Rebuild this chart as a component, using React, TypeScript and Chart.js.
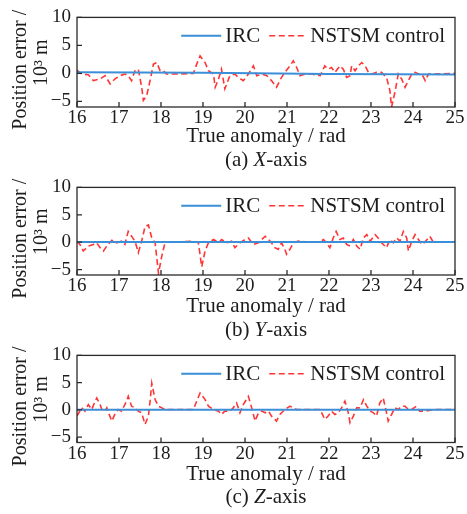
import React, { useEffect, useRef } from "react";
import { Chart, registerables } from "chart.js";

Chart.register(...registerables);

const FONT = '"Liberation Serif", "Times New Roman", serif';

const xTickValues = [16, 17, 18, 19, 20, 21, 22, 23, 24, 25];
const yTickValues = [-5, 0, 5, 10];

const seriesNames = ["IRC", "NSTSM control"];
const xTitle = "True anomaly / rad";
const yTitleLines = ["Position error /", "10\u00b3 m"];

// (a) X-axis
const anomalyA = [16.0, 16.11, 16.27, 16.39, 16.55, 16.67, 16.79, 16.9, 17.02, 17.14, 17.22, 17.3, 17.38, 17.46, 17.54, 17.58, 17.66, 17.74, 17.82, 17.9, 17.98, 18.06, 18.13, 18.45, 18.77, 18.85, 18.93, 19.05, 19.13, 19.25, 19.29, 19.37, 19.44, 19.52, 19.64, 19.76, 19.84, 19.96, 20.08, 20.2, 20.28, 20.4, 20.52, 20.63, 20.75, 20.87, 20.95, 21.07, 21.15, 21.23, 21.31, 21.43, 21.59, 21.79, 21.9, 21.98, 22.06, 22.14, 22.26, 22.34, 22.42, 22.5, 22.54, 22.62, 22.7, 22.78, 22.86, 22.94, 23.02, 23.13, 23.25, 23.37, 23.45, 23.49, 23.57, 23.65, 23.73, 23.81, 23.89, 23.97, 24.05, 24.13, 24.21, 24.29, 24.37, 24.48, 25.0];
const nstsmA = [0.59, -0.12, -0.24, -1.29, -1.0, -0.41, -1.88, -1.0, -0.41, -0.12, -0.41, -1.29, 0.47, 0.76, -2.47, -4.82, -3.94, -1.29, 1.65, 1.94, 0.47, 0.47, -0.12, -0.1, 0.0, 1.65, 3.12, 1.94, 0.47, -0.12, -2.47, -1.0, 0.76, -2.76, -0.41, -0.12, -0.71, -1.29, -0.12, 1.35, -0.41, -0.12, -0.41, -1.29, -2.47, -0.71, 0.18, 1.35, 2.24, 1.06, -0.41, -0.12, -0.12, -0.41, 1.35, 0.76, 1.06, 0.18, 1.35, 0.76, -0.71, -0.41, 1.35, 0.47, 1.35, 1.94, 1.35, 0.18, -0.12, 0.18, 0.18, -0.71, -3.06, -6.0, -3.35, -0.12, -1.0, -2.47, -1.29, -0.12, 0.18, -0.12, -0.12, -1.29, -0.12, -0.1, 0.0];

// (b) Y-axis
const anomalyB = [16.0, 16.07, 16.15, 16.27, 16.39, 16.47, 16.55, 16.63, 16.71, 16.83, 16.94, 17.06, 17.14, 17.22, 17.3, 17.38, 17.46, 17.54, 17.62, 17.7, 17.78, 17.86, 17.94, 18.02, 18.1, 18.45, 18.77, 18.89, 18.97, 19.05, 19.13, 19.25, 19.37, 19.44, 19.56, 19.68, 19.76, 19.88, 20.0, 20.08, 20.2, 20.32, 20.4, 20.48, 20.56, 20.63, 20.71, 20.79, 20.87, 20.95, 20.99, 21.07, 21.15, 21.27, 21.43, 21.79, 21.87, 21.94, 22.02, 22.1, 22.17, 22.26, 22.34, 22.42, 22.5, 22.58, 22.66, 22.74, 22.82, 22.9, 22.98, 23.1, 23.17, 23.25, 23.37, 23.45, 23.53, 23.61, 23.69, 23.77, 23.85, 23.89, 23.97, 24.05, 24.13, 24.21, 24.29, 24.4, 24.48, 25.0];
const nstsmB = [0.18, -0.42, -1.61, -0.71, -0.42, -0.12, -1.01, -1.61, -0.71, 0.36, -0.12, 0.18, -0.42, 1.96, 1.07, 0.18, -1.9, 0.18, 2.86, 3.15, 0.77, -0.12, -5.7, -2.5, 0.06, 0.06, 0.18, -0.12, -4.5, -1.61, -0.12, 0.48, -0.12, 0.48, -0.12, 0.18, -1.01, -0.12, 0.48, 0.77, -0.42, -0.12, 0.48, 1.07, 0.48, -0.12, -1.01, -1.31, -0.12, -1.31, -2.2, -1.31, -0.12, 0.18, 0.06, 0.06, 0.48, -0.12, -1.01, 0.77, 1.96, 0.48, 0.77, -0.42, -0.71, 0.48, -0.71, -1.31, 0.77, 1.37, 0.18, 1.37, 0.77, -0.12, -1.01, 0.48, -0.12, 0.77, 0.18, 1.96, 0.77, -1.61, 0.18, 1.37, 0.48, -0.42, 0.06, 1.07, 0.06, 0.0];

// (c) Z-axis
const anomalyC = [16.0, 16.11, 16.19, 16.27, 16.35, 16.43, 16.47, 16.55, 16.59, 16.67, 16.71, 16.75, 16.83, 16.9, 16.98, 17.06, 17.18, 17.22, 17.3, 17.38, 17.46, 17.54, 17.62, 17.7, 17.74, 17.78, 17.86, 17.94, 18.02, 18.1, 18.45, 18.77, 18.85, 18.93, 19.05, 19.13, 19.25, 19.37, 19.44, 19.52, 19.64, 19.72, 19.8, 19.88, 19.96, 20.08, 20.16, 20.24, 20.32, 20.4, 20.48, 20.56, 20.63, 20.75, 20.83, 20.95, 21.07, 21.15, 21.23, 21.39, 21.79, 21.9, 21.98, 22.06, 22.14, 22.22, 22.3, 22.38, 22.46, 22.5, 22.58, 22.66, 22.74, 22.82, 22.9, 22.98, 23.06, 23.13, 23.21, 23.29, 23.37, 23.41, 23.49, 23.57, 23.65, 23.73, 23.81, 23.89, 23.97, 24.08, 24.16, 24.29, 24.48, 25.0];
const nstsmC = [-1.15, 0.36, -0.24, 0.97, 0.06, 1.58, 2.18, 0.97, 0.06, -0.24, 0.36, -0.55, -2.06, -0.85, 0.06, -0.24, 1.58, 2.48, 0.67, 0.36, -0.24, -0.55, -2.67, -1.15, 1.58, 4.91, 1.88, 0.67, 0.36, 0.06, 0.06, 0.06, 1.58, 3.09, 1.88, 0.67, 0.06, -0.24, -0.85, -0.24, -0.24, 0.36, 1.27, -0.55, 0.97, 2.48, 0.36, -2.06, -0.55, -0.24, -0.55, -0.24, -1.15, -2.06, -0.85, 0.06, 0.67, 0.36, 0.06, 0.06, 0.06, -1.76, -1.15, -0.24, -0.85, -0.55, 0.36, 1.58, -0.55, -2.36, -1.15, 0.36, 0.36, 1.88, 0.67, -0.24, -0.55, -1.15, 1.27, 2.18, -0.55, -2.06, -0.85, 0.36, 0.06, 0.67, 0.67, 0.06, 0.06, 0.67, -0.24, -0.24, 0.06, 0.06];

// IRC (nearly flat)
const ircAnomaly = [16, 19, 22, 25];
const ircA = [0.2, 0.1, -0.1, -0.2];
const ircB = [0.05, 0.05, 0.05, 0.05];
const ircC = [0.0, 0.0, 0.0, 0.0];

const captionLabels = ["(a) ", "(b) ", "(c) "];
const captionLetters = ["X", "Y", "Z"];

const BLUE = "#3a8fd8";
const RED = "#ff3535";
const INK = "#1c1c1c";

const CANVAS_W = 467;
const CANVAS_H = 170;
const TICK_SIZE = 19;
const TEXT_SIZE = 21;
const YTITLE_SIZE = 20;

type PanelProps = {
  top: number;
  areaHeight: number;
  anomaly: number[];
  nstsm: number[];
  irc: number[];
  label: string;
  letter: string;
  captionBase: number;
};

function Panel({ top, areaHeight, anomaly, nstsm, irc, label, letter, captionBase }: PanelProps) {
  const ref = useRef<HTMLCanvasElement | null>(null);

  useEffect(() => {
    if (!ref.current) return;
    const areaTop = 16;
    const xAxisH = CANVAS_H - areaTop - areaHeight;

    const decor = {
      id: "decor",
      afterDatasetsDraw(chart: any) {
        const { ctx, chartArea: a, scales } = chart;
        ctx.save();
        // frame
        ctx.strokeStyle = "#2a2a2a";
        ctx.lineWidth = 1.3;
        ctx.setLineDash([]);
        ctx.strokeRect(a.left, a.top, a.right - a.left, a.bottom - a.top);
        // inward ticks
        ctx.beginPath();
        scales.x.ticks.forEach((t: any) => {
          const px = scales.x.getPixelForValue(t.value);
          ctx.moveTo(px, a.bottom);
          ctx.lineTo(px, a.bottom - 5);
        });
        scales.y.ticks.forEach((t: any) => {
          const py = scales.y.getPixelForValue(t.value);
          ctx.moveTo(a.left, py);
          ctx.lineTo(a.left + 5, py);
        });
        ctx.stroke();

        // legend (inside, top-right)
        ctx.font = `${TEXT_SIZE}px ${FONT}`;
        ctx.fillStyle = INK;
        ctx.textBaseline = "middle";
        ctx.textAlign = "left";
        const ly = a.top + 18.3;
        const wIRC = ctx.measureText(seriesNames[0]).width;
        const wN = ctx.measureText(seriesNames[1]).width;
        const right = a.right - 10;
        const xN = right - wN;
        const redEnd = xN - 3;
        const redStart = redEnd - 38;
        const xIRC = redStart - 9 - wIRC;
        const blueEnd = xIRC - 4;
        const blueStart = blueEnd - 40;
        ctx.lineWidth = 2;
        ctx.strokeStyle = BLUE;
        ctx.beginPath();
        ctx.moveTo(blueStart, ly);
        ctx.lineTo(blueEnd, ly);
        ctx.stroke();
        ctx.lineWidth = 1.6;
        ctx.strokeStyle = RED;
        ctx.setLineDash([6, 3.5]);
        ctx.beginPath();
        ctx.moveTo(redStart, ly);
        ctx.lineTo(redEnd, ly);
        ctx.stroke();
        ctx.setLineDash([]);
        ctx.fillText(seriesNames[0], xIRC, ly + 1);
        ctx.fillText(seriesNames[1], xN, ly + 1);

        // y-axis title (two lines)
        const cy = (a.top + a.bottom) / 2;
        ctx.font = `${YTITLE_SIZE}px ${FONT}`;
        ctx.textAlign = "center";
        ctx.textBaseline = "alphabetic";
        ctx.save();
        ctx.translate(25.5, cy + 7.5);
        ctx.rotate(-Math.PI / 2);
        ctx.fillText(yTitleLines[0], 0, 0);
        ctx.restore();
        ctx.save();
        ctx.translate(46.5, cy + 0.5);
        ctx.rotate(-Math.PI / 2);
        ctx.fillText(yTitleLines[1], 0, 0);
        ctx.restore();

        // caption
        const cx = (a.left + a.right) / 2;
        const normal = `${TEXT_SIZE}px ${FONT}`;
        const italic = `italic ${TEXT_SIZE}px ${FONT}`;
        ctx.textAlign = "left";
        ctx.font = normal;
        const w1 = ctx.measureText(label).width;
        const w3 = ctx.measureText("-axis").width;
        ctx.font = italic;
        const w2 = ctx.measureText(letter).width;
        let x0 = cx - (w1 + w2 + w3) / 2;
        ctx.font = normal;
        ctx.fillText(label, x0, captionBase);
        x0 += w1;
        ctx.font = italic;
        ctx.fillText(letter, x0, captionBase);
        x0 += w2;
        ctx.font = normal;
        ctx.fillText("-axis", x0, captionBase);
        ctx.restore();
      },
    };

    const chart = new Chart(ref.current, {
      type: "line",
      data: {
        datasets: [
          {
            label: seriesNames[0],
            data: ircAnomaly.map((x, i) => ({ x, y: irc[i] })),
            borderColor: BLUE,
            borderWidth: 2,
            pointRadius: 0,
            tension: 0,
          },
          {
            label: seriesNames[1],
            data: anomaly.map((x, i) => ({ x, y: nstsm[i] })),
            borderColor: RED,
            borderWidth: 1.6,
            borderDash: [6, 3.5],
            pointRadius: 0,
            tension: 0,
          },
        ],
      },
      options: {
        responsive: false,
        animation: false,
        layout: { padding: { top: areaTop, right: 12, left: 0, bottom: 0 } },
        plugins: { legend: { display: false }, tooltip: { enabled: false }, title: { display: false } },
        scales: {
          x: {
            type: "linear",
            min: 16,
            max: 25,
            grid: { display: false, drawTicks: false },
            border: { display: false },
            afterBuildTicks: (s: any) => {
              s.ticks = xTickValues.map((v) => ({ value: v }));
            },
            afterFit: (s: any) => {
              s.height = xAxisH;
            },
            ticks: {
              color: INK,
              padding: 0,
              maxRotation: 0,
              autoSkip: false,
              font: { family: FONT, size: TICK_SIZE },
            },
            title: {
              display: true,
              text: xTitle,
              color: INK,
              font: { family: FONT, size: TEXT_SIZE },
              padding: { top: 0, bottom: 20.5 },
            },
          },
          y: {
            type: "linear",
            min: -6,
            max: 10,
            grid: { display: false, drawTicks: false },
            border: { display: false },
            afterBuildTicks: (s: any) => {
              s.ticks = yTickValues.map((v) => ({ value: v }));
            },
            afterFit: (s: any) => {
              s.width = 77;
            },
            ticks: {
              color: INK,
              padding: 6,
              font: { family: FONT, size: TICK_SIZE },
              callback: (v: any) => (Number(v) < 0 ? "\u2212" + Math.abs(Number(v)) : String(v)),
            },
          },
        },
      },
      plugins: [decor],
    } as any);
    return () => chart.destroy();
  }, [top, areaHeight, anomaly, nstsm, irc, label, letter, captionBase]);

  return (
    <canvas
      ref={ref}
      width={CANVAS_W}
      height={CANVAS_H}
      style={{ position: "absolute", left: 0, top, width: CANVAS_W, height: CANVAS_H }}
    />
  );
}

export default function App() {
  return (
    <div style={{ position: "absolute", left: 0, top: 0, width: CANVAS_W, height: 514, background: "#fff" }}>
      <Panel top={0} areaHeight={91} anomaly={anomalyA} nstsm={nstsmA} irc={ircA} label={captionLabels[0]} letter={captionLetters[0]} captionBase={165.5} />
      <Panel top={170} areaHeight={89} anomaly={anomalyB} nstsm={nstsmB} irc={ircB} label={captionLabels[1]} letter={captionLetters[1]} captionBase={165.5} />
      <Panel top={338} areaHeight={88.5} anomaly={anomalyC} nstsm={nstsmC} irc={ircC} label={captionLabels[2]} letter={captionLetters[2]} captionBase={164.5} />
    </div>
  );
}
